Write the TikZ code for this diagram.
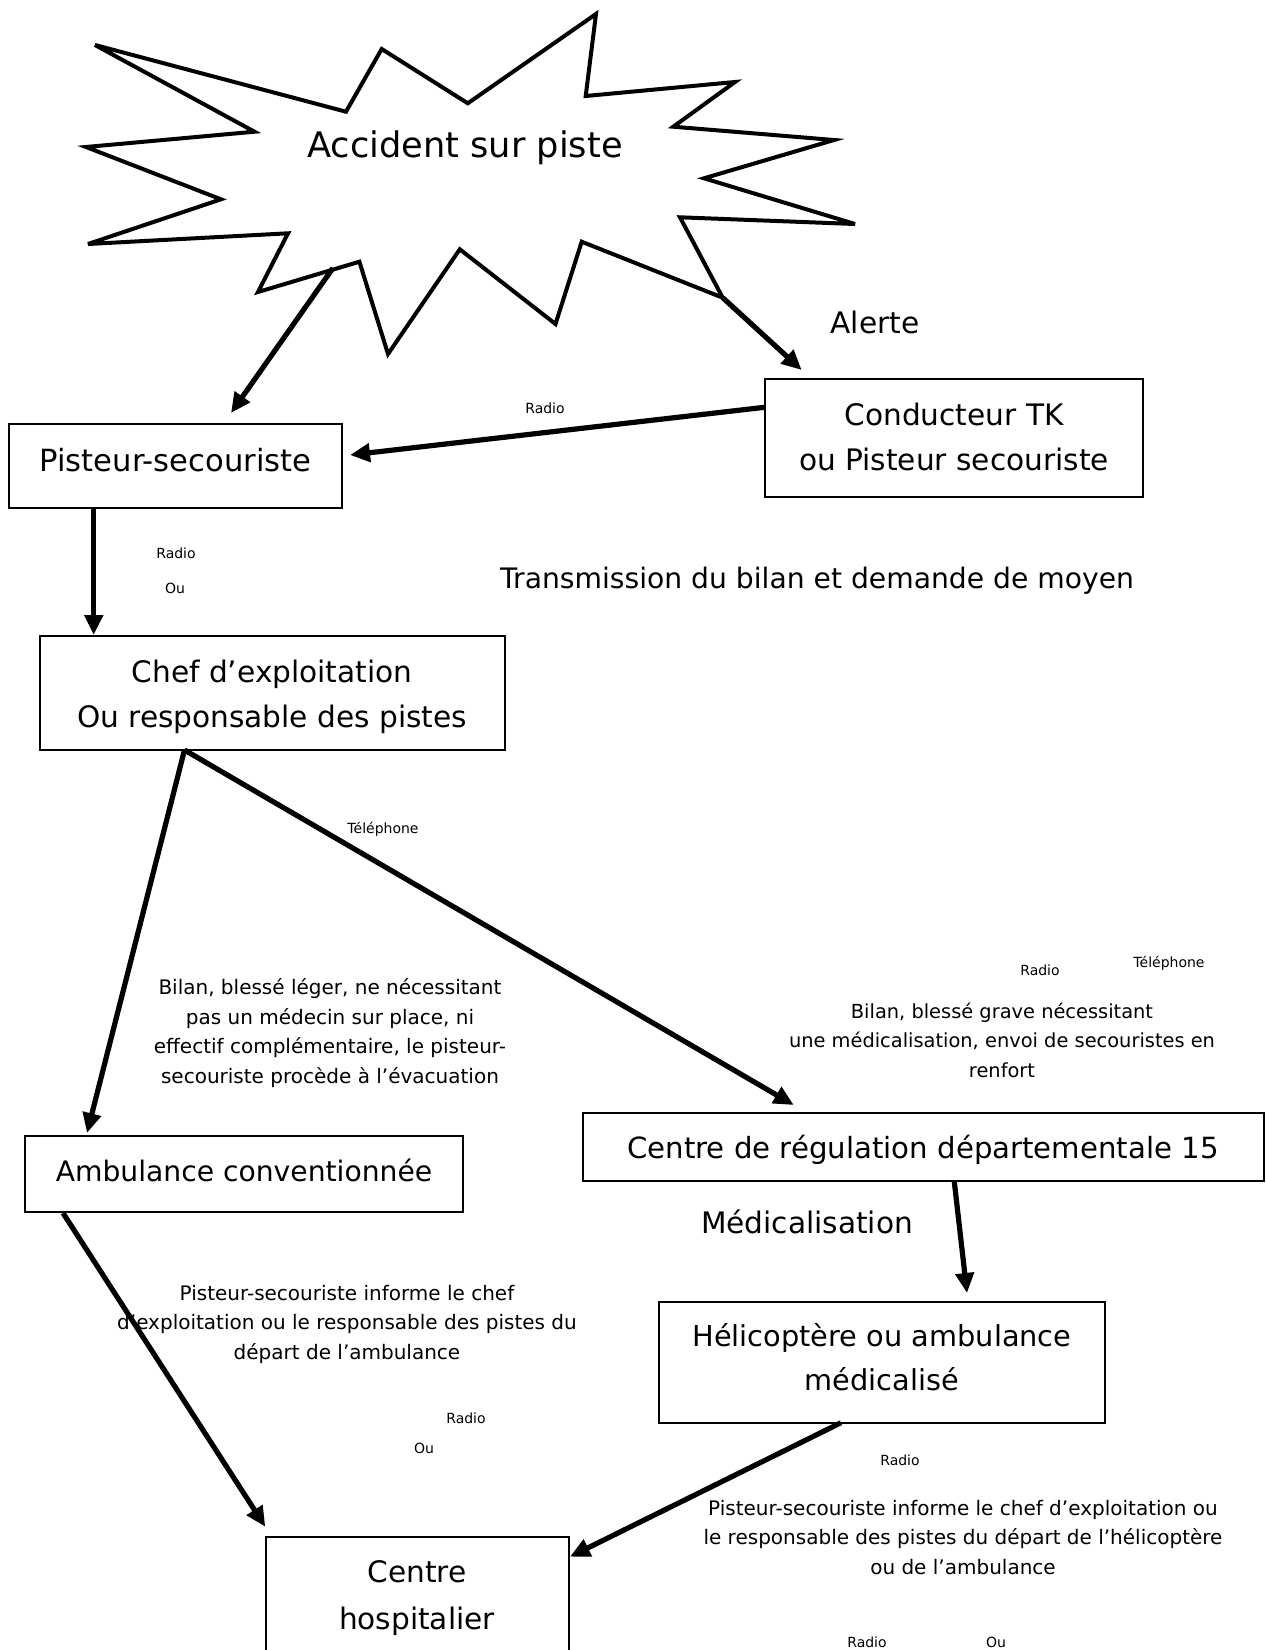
\documentclass[tikz,border=0pt]{standalone}
\usepackage{fontspec}
\setmainfont{DejaVu Sans}
\usetikzlibrary{arrows.meta}
\begin{document}
\begin{tikzpicture}[x=0.5pt,y=-0.5pt,
  box/.style={draw, line width=1pt, inner sep=0pt, anchor=center},
  conn/.style={line width=2.6pt, -{Triangle[length=10pt,width=9pt]}},
  starline/.style={line width=2pt, line join=miter, miter limit=6},
  biglbl/.style={font=\fontsize{17.6}{22}\selectfont, anchor=base, inner sep=0pt},
  mainlbl/.style={font=\fontsize{14.8}{22.5}\selectfont, align=center, anchor=base, inner sep=0pt},
  midlbl/.style={font=\fontsize{10}{14.75}\selectfont, align=center, anchor=base, inner sep=0pt},
  smalllbl/.style={font=\fontsize{7}{9}\selectfont, anchor=base, inner sep=0pt}]
\useasboundingbox (0,0) rectangle (1265,1650);
\fill[white] (0,0) rectangle (1265,1650);

% star
\draw[starline] (95,45) -- (346,111.7) -- (381.7,49) -- (467.8,103.3) -- (596,14) -- (585.7,96) -- (735,82) -- (673.3,126.7) -- (834,140) -- (704,178.3) -- (855,224) -- (680,217.3) -- (722.7,297.7) -- (581.7,241.7) -- (555.5,324) -- (459.8,249.3) -- (388,354) -- (359.4,261.7) -- (258,292) -- (288,233.3) -- (88,244) -- (221,199.3) -- (86,147) -- (254.5,131.7) -- cycle;
\node[biglbl] (acc) at (465,157) {Accident sur piste};

% boxes
\node[box, minimum width=166.5pt, minimum height=42pt] (pist) at (175.5,466) {};
\node[box, minimum width=189.25pt, minimum height=59.15pt] (cond) at (953.75,438.2) {};
\node[box, minimum width=232.5pt, minimum height=57pt] (chef) at (272.5,693) {};
\node[box, minimum width=219.2pt, minimum height=37.85pt] (amb) at (244.2,1173.9) {};
\node[box, minimum width=340.1pt, minimum height=34pt] (reg) at (923.5,1146.7) {};
\node[box, minimum width=223pt, minimum height=60.5pt] (heli) at (882,1362.2) {};
\node[box, minimum width=151.35pt, minimum height=70pt, anchor=north] (hosp) at (417.35,1536) {};

% box texts
\node[mainlbl, font=\fontsize{15.3}{22.5}\selectfont] (pisttxt) at (175.5,471) {Pisteur-secouriste};
\node[mainlbl] (condtxt) at (954,470) {Conducteur TK\\ou Pisteur secouriste};
\node[mainlbl] (cheftxt) at (272,727) {Chef d’exploitation\\Ou responsable des pistes};
\node[mainlbl, font=\fontsize{14.1}{22.5}\selectfont] (ambtxt) at (244,1181) {Ambulance conventionnée};
\node[mainlbl, font=\fontsize{14.6}{22.5}\selectfont] (regtxt) at (923,1158) {Centre de régulation départementale 15};
\node[mainlbl, font=\fontsize{14.4}{22}\selectfont] (helitxt) at (882,1390) {Hélicoptère ou ambulance\\médicalisé};
\node[mainlbl, font=\fontsize{14.8}{23.5}\selectfont] (hosptxt) at (417,1629) {Centre\\hospitalier};

% free labels
\node[mainlbl] (alerte) at (875,333) {Alerte};
\node[mainlbl, font=\fontsize{14.1}{22.5}\selectfont] (transm) at (817,588) {Transmission du bilan et demande de moyen};
\node[mainlbl] (medic) at (807,1233) {Médicalisation};
\node[midlbl] (leger) at (330,1083) {Bilan, blessé léger, ne nécessitant\\pas un médecin sur place, ni\\effectif complémentaire, le pisteur-\\secouriste procède à l’évacuation};
\node[midlbl, font=\fontsize{9.7}{14.75}\selectfont] (grave) at (1002,1077) {Bilan, blessé grave nécessitant\\une médicalisation, envoi de secouristes en\\renfort};
\node[midlbl] (infamb) at (347,1359) {Pisteur-secouriste informe le chef\\d’exploitation ou le responsable des pistes du\\départ de l’ambulance};
\node[midlbl] (infheli) at (963,1574) {Pisteur-secouriste informe le chef d’exploitation ou\\le responsable des pistes du départ de l’hélicoptère\\ou de l’ambulance};

\node[smalllbl] (r1) at (545,413) {Radio};
\node[smalllbl] (r2) at (176,558) {Radio};
\node[smalllbl] (o2) at (175,593) {Ou};
\node[smalllbl] (t1) at (383,833) {Téléphone};
\node[smalllbl] (r3) at (1040,975) {Radio};
\node[smalllbl] (t3) at (1169,967) {Téléphone};
\node[smalllbl] (r4) at (466,1423) {Radio};
\node[smalllbl] (o4) at (424,1453) {Ou};
\node[smalllbl] (r5) at (900,1465) {Radio};
\node[smalllbl] (r6) at (867,1647) {Radio};
\node[smalllbl] (o6) at (996,1647) {Ou};

% connector end points
\coordinate (s1) at (333,268);
\coordinate (e1) at (231,413);
\coordinate (s2) at (722.7,297.7);
\coordinate (e2) at (801.7,370);
\coordinate (s3) at (764.5,407.3);
\coordinate (e3) at (350,455);
\coordinate (s4) at (93.7,508);
\coordinate (e4) at (93.7,635);
\coordinate (s5) at (184.5,750);
\coordinate (e5) at (87,1133);
\coordinate (e6) at (793.8,1105);
\coordinate (s7) at (954.3,1181.7);
\coordinate (e7) at (967,1293);
\coordinate (s8) at (63,1213);
\coordinate (e8) at (265.3,1526.7);
\coordinate (s9) at (841,1422.7);
\coordinate (e9) at (570,1556.7);

\draw[conn] (s1) -- (e1);
\draw[conn] (s2) -- (e2);
\draw[conn] (s3) -- (e3);
\draw[conn] (s4) -- (e4);
\draw[conn] (s5) -- (e5);
\draw[conn] (s5) -- (e6);
\draw[conn] (s7) -- (e7);
\draw[conn] (s8) -- (e8);
\draw[conn] (s9) -- (e9);
\end{tikzpicture}
\end{document}
